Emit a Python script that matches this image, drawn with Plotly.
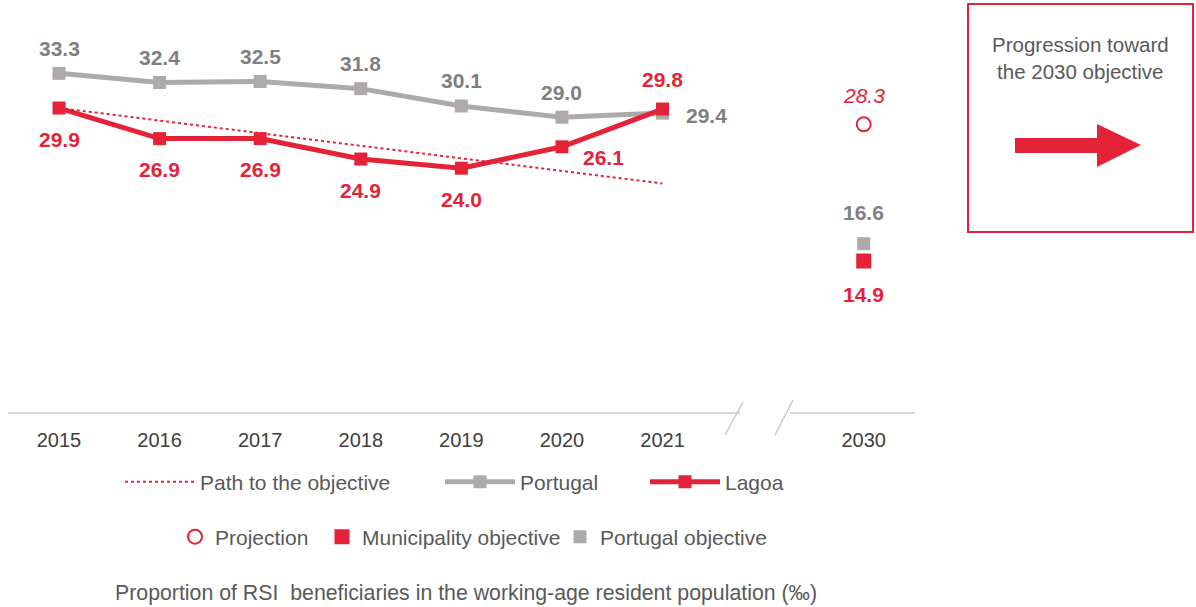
import plotly.graph_objects as go

# ---------------- data ----------------
years = ["2015", "2016", "2017", "2018", "2019", "2020", "2021"]
year_pos = [0, 1, 2, 3, 4, 5, 6]
target_label = "2030"
target_pos = 8
portugal = [33.3, 32.4, 32.5, 31.8, 30.1, 29.0, 29.4]
lagoa = [29.9, 26.9, 26.9, 24.9, 24.0, 26.1, 29.8]
path_x = [0, 6]
path_y = [29.9, 22.5]
projection_2030 = 28.3
municipality_obj_2030 = 14.9
portugal_obj_2030 = 16.6

RED = "#e42339"
GRAY = "#aeaaaa"
GRAY_TXT = "#7f7f7f"
TXT = "#595959"
FONT = "Liberation Sans, Arial, sans-serif"

# plot area in pixels
L, R, T, B = 8, 915, 5, 413
W, H = 1196, 607


def px(xp):
    return (xp - L) / (R - L)


def py(yp):
    return (B - yp) / (B - T)


fig = go.Figure()

fig.add_trace(go.Scatter(
    x=path_x, y=path_y, mode="lines", name="Path to the objective",
    line=dict(color=RED, width=2, dash="dot"), legend="legend"))
fig.add_trace(go.Scatter(
    x=year_pos, y=portugal, mode="lines+markers", name="Portugal",
    line=dict(color=GRAY, width=5), marker=dict(symbol="square", size=13, color=GRAY),
    legend="legend2"))
fig.add_trace(go.Scatter(
    x=year_pos, y=lagoa, mode="lines+markers", name="Lagoa",
    line=dict(color=RED, width=5), marker=dict(symbol="square", size=13, color=RED),
    legend="legend3"))

fig.add_trace(go.Scatter(
    x=[target_pos], y=[projection_2030], mode="markers", name="Projection",
    marker=dict(symbol="circle-open", size=14, color=RED, line=dict(width=2, color=RED)),
    legend="legend4"))
fig.add_trace(go.Scatter(
    x=[target_pos], y=[municipality_obj_2030], mode="markers", name="Municipality objective",
    marker=dict(symbol="square", size=15, color=RED), legend="legend5"))
fig.add_trace(go.Scatter(
    x=[target_pos], y=[portugal_obj_2030], mode="markers", name="Portugal objective",
    marker=dict(symbol="square", size=13, color=GRAY), legend="legend6"))

annotations = []
bold = dict(family=FONT, size=21, color=GRAY_TXT, weight="bold")
for i, v in enumerate(portugal):
    if i == len(portugal) - 1:
        annotations.append(dict(x=year_pos[i], y=v, text=f"{v:.1f}", showarrow=False,
                                xshift=44, yshift=-2, font=bold))
    else:
        annotations.append(dict(x=year_pos[i], y=v, text=f"{v:.1f}", showarrow=False,
                                yshift=25, font=bold))
boldr = dict(family=FONT, size=21, color=RED, weight="bold")
for i, v in enumerate(lagoa):
    if i == 5:
        annotations.append(dict(x=year_pos[i], y=v, text=f"{v:.1f}", showarrow=False,
                                xshift=42, yshift=-11, font=boldr))
    elif i == 6:
        annotations.append(dict(x=year_pos[i], y=v, text=f"{v:.1f}", showarrow=False,
                                yshift=30, font=boldr))
    else:
        annotations.append(dict(x=year_pos[i], y=v, text=f"{v:.1f}", showarrow=False,
                                yshift=-31, font=boldr))
annotations.append(dict(x=target_pos, y=projection_2030, text=f"<i>{projection_2030:.1f}</i>",
                        showarrow=False, yshift=29, font=dict(family=FONT, size=21, color=RED)))
annotations.append(dict(x=target_pos, y=portugal_obj_2030, text=f"{portugal_obj_2030:.1f}",
                        showarrow=False, yshift=31, font=bold))
annotations.append(dict(x=target_pos, y=municipality_obj_2030, text=f"{municipality_obj_2030:.1f}",
                        showarrow=False, yshift=-33, font=boldr))

# box text
annotations.append(dict(xref="paper", yref="paper", x=px(1080), y=py(58),
                        xanchor="center", yanchor="middle",
                        text="Progression toward<br>the 2030 objective", showarrow=False,
                        font=dict(family=FONT, size=20.5, color=TXT), align="center"))
# caption
annotations.append(dict(xref="paper", yref="paper", x=px(466), y=py(593),
                        xanchor="center", yanchor="middle",
                        text="Proportion of RSI&nbsp; beneficiaries in the working-age resident population (‰)",
                        showarrow=False, font=dict(family=FONT, size=21.3, color=TXT)))

AX = "#d9d9d9"
shapes = [
    # axis line with break
    dict(type="line", xref="paper", yref="paper", x0=0, x1=px(740), y0=0, y1=0,
         line=dict(color=AX, width=2)),
    dict(type="line", xref="paper", yref="paper", x0=px(790), x1=1, y0=0, y1=0,
         line=dict(color=AX, width=2)),
    dict(type="line", xref="paper", yref="paper", x0=px(743), x1=px(725), y0=py(402), y1=py(435),
         line=dict(color="#c8c8c8", width=1.5)),
    dict(type="line", xref="paper", yref="paper", x0=px(793), x1=px(775), y0=py(400), y1=py(435),
         line=dict(color="#c8c8c8", width=1.5)),
    # box
    dict(type="rect", xref="paper", yref="paper", x0=px(968), x1=px(1193), y0=py(4), y1=py(232),
         line=dict(color=RED, width=2), fillcolor="rgba(0,0,0,0)"),
    # arrow
    dict(type="path", xref="paper", yref="paper",
         path="M {} {} L {} {} L {} {} L {} {} L {} {} L {} {} L {} {} Z".format(
             px(1015), py(138), px(1097), py(138), px(1097), py(124), px(1141), py(145),
             px(1097), py(167), px(1097), py(153), px(1015), py(153)),
         fillcolor=RED, line=dict(width=0)),
]


def leg(xp, yp, iw=30):
    return dict(orientation="h", x=px(xp), y=py(yp), xanchor="left", yanchor="middle",
                font=dict(family=FONT, size=21, color=TXT), itemwidth=iw,
                bgcolor="rgba(0,0,0,0)", borderwidth=0)


fig.update_layout(
    width=W, height=H,
    margin=dict(l=L, r=W - R, t=T, b=H - B),
    plot_bgcolor="white", paper_bgcolor="white",
    font=dict(family=FONT, size=20, color="#404040"),
    xaxis=dict(range=[-0.507, 8.51], tickmode="array",
               tickvals=year_pos + [target_pos], ticktext=years + [target_label],
               showgrid=False, zeroline=False, showline=False, ticks="",
               ticklabelstandoff=13,
               tickfont=dict(size=20, color="#404040"), fixedrange=True),
    yaxis=dict(range=[0, 40], visible=False, fixedrange=True),
    showlegend=True,
    legend=leg(120, 482, 70),
    legend2=leg(440, 482, 70),
    legend3=leg(645, 482, 70),
    legend4=leg(175, 537),
    legend5=leg(322, 537),
    legend6=leg(560, 537),
    annotations=annotations,
    shapes=shapes,
)

fig.write_html("out.html", config={"displayModeBar": False},
               post_script="document.body.style.margin='0px';")
